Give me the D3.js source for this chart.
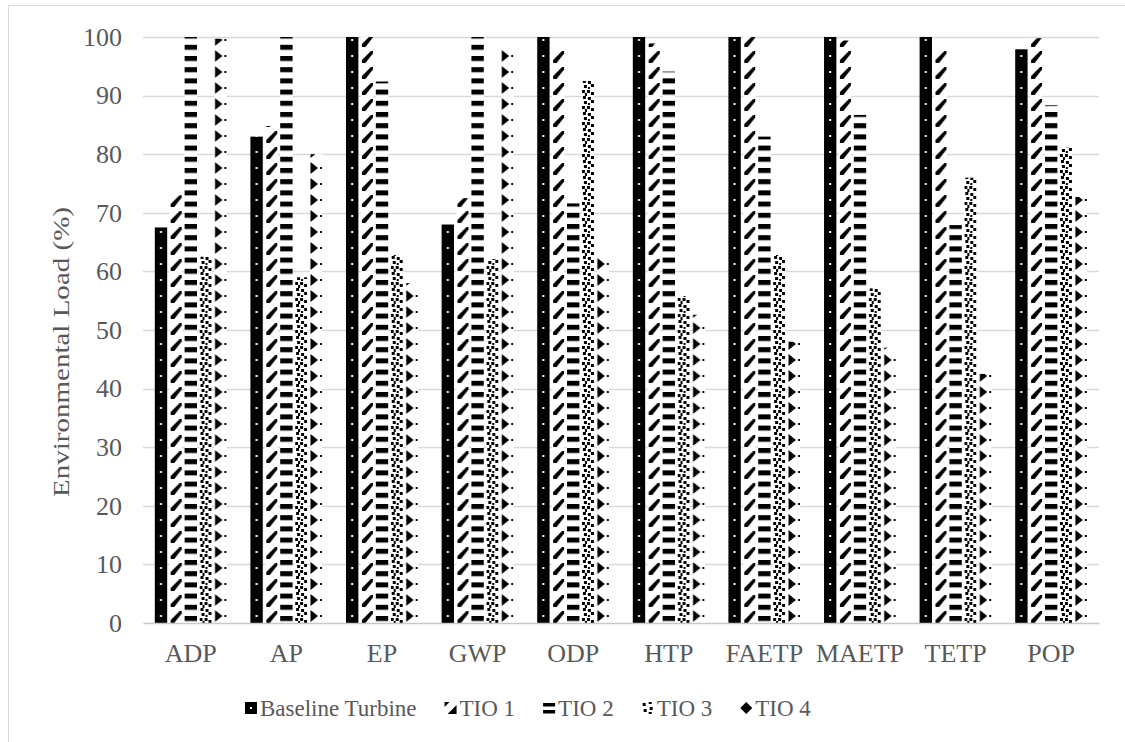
<!DOCTYPE html>
<html>
<head>
<meta charset="utf-8">
<script src="https://cdn.jsdelivr.net/npm/d3@7/dist/d3.min.js"></script>
<style>
  html, body { margin: 0; padding: 0; background: #fff; }
  svg { display: block; }
  svg text { font-family: "Liberation Serif", "Times New Roman", serif; }
</style>
</head>
<body>
<svg id="chart" width="1125" height="742"></svg>
<script>
// Impact categories (x axis)
const categories = ["ADP", "AP", "EP", "GWP", "ODP", "HTP", "FAETP", "MAETP", "TETP", "POP"];

// Series names (legend order)
const seriesNames = ["Baseline Turbine", "TIO 1", "TIO 2", "TIO 3", "TIO 4"];

// Environmental load (%) per series, one value per category
const baseline = [67.5, 83.0, 100, 68.0, 100, 100, 100, 100, 100, 97.9];
const tio1     = [73.0, 84.8, 100, 72.5, 97.9, 98.9, 100, 99.4, 97.9, 99.8];
const tio2     = [100, 100, 92.4, 100, 71.6, 94.1, 83.0, 86.7, 67.9, 88.4];
const tio3     = [62.5, 59.0, 62.8, 62.1, 92.5, 55.8, 62.8, 57.1, 76.0, 81.1];
const tio4     = [99.7, 80.0, 58.0, 97.9, 62.9, 52.6, 48.0, 47.0, 42.5, 72.7];

// Y axis ticks
const yTicks = [0, 10, 20, 30, 40, 50, 60, 70, 80, 90, 100];
const yTitle = "Environmental Load (%)";

const seriesValues = [baseline, tio1, tio2, tio3, tio4];
const rows = categories.map((c, i) => ({
  category: c,
  values: seriesNames.map((s, k) => ({ series: s, k: k, value: seriesValues[k][i] }))
}));

const FONT = "Liberation Serif, Times New Roman, serif";
const svg = d3.select("#chart");
const textColor = "#595959";
const gridColor = "#d9d9d9";

// Outer chart frame
svg.append("rect")
  .attr("x", 8.5).attr("y", 5.5)
  .attr("width", 1130).attr("height", 745)
  .attr("fill", "none").attr("stroke", gridColor).attr("stroke-width", 1);

const plot = { left: 143, right: 1099, top: 37, bottom: 623 };

const x0 = d3.scaleBand()
  .domain(categories)
  .range([plot.left, plot.right])
  .paddingInner(0.247)
  .paddingOuter(0.1235);

const x1 = d3.scaleBand()
  .domain(seriesNames)
  .range([0, x0.bandwidth()])
  .paddingInner(0.17)
  .paddingOuter(0);

const y = d3.scaleLinear().domain([0, 100]).range([plot.bottom, plot.top]);

// ---- Pattern fills (black on white) ----
const defs = svg.append("defs");

// Baseline: solid black with small white dots
const pBase = defs.append("pattern").attr("id", "pat0")
  .attr("patternUnits", "userSpaceOnUse").attr("width", 16).attr("height", 16);
pBase.append("rect").attr("width", 16).attr("height", 16).attr("fill", "#000");
pBase.append("rect").attr("x", 5.2).attr("y", 7).attr("width", 2).attr("height", 2).attr("fill", "#fff");

// TIO 1: dashed upward diagonal
const p1 = defs.append("pattern").attr("id", "pat1")
  .attr("patternUnits", "userSpaceOnUse").attr("width", 16).attr("height", 16);
p1.append("rect").attr("width", 16).attr("height", 16).attr("fill", "#fff");
p1.append("polygon").attr("points", "1,15 4.5,15 12,5.5 12,3 10,3 1,12").attr("fill", "#000");

// TIO 2: horizontal dashes
const p2 = defs.append("pattern").attr("id", "pat2")
  .attr("patternUnits", "userSpaceOnUse").attr("width", 16).attr("height", 11.2);
p2.append("rect").attr("width", 16).attr("height", 11.2).attr("fill", "#fff");
p2.append("rect").attr("x", 0).attr("y", 0).attr("width", 16).attr("height", 5).attr("fill", "#000");

// TIO 3: confetti
const p3 = defs.append("pattern").attr("id", "pat3")
  .attr("patternUnits", "userSpaceOnUse").attr("width", 16).attr("height", 16);
p3.append("rect").attr("width", 16).attr("height", 16).attr("fill", "#fff");
[[1,0,3,3],[6,1,3,3],[9,4,3,3],[2,5,3,3],[6,7,2,2],[0,10,3,3],[5,10,3,3],[9,12,3,3],[3,13,2,3]]
  .forEach(d => p3.append("rect").attr("x", d[0]).attr("y", d[1]).attr("width", d[2]).attr("height", d[3]).attr("fill", "#000"));

// TIO 4: right-pointing triangles with a dot
const p4 = defs.append("pattern").attr("id", "pat4")
  .attr("patternUnits", "userSpaceOnUse").attr("width", 16).attr("height", 16);
p4.append("rect").attr("width", 16).attr("height", 16).attr("fill", "#fff");
p4.append("polygon").attr("points", "0.5,2 0.5,14 8,8").attr("fill", "#000");
p4.append("rect").attr("x", 10).attr("y", 7).attr("width", 2).attr("height", 2).attr("fill", "#000");

// ---- Gridlines ----
svg.append("g").selectAll("line").data(yTicks.filter(t => t > 0)).join("line")
  .attr("x1", plot.left).attr("x2", plot.right)
  .attr("y1", d => Math.round(y(d)) + 0.5).attr("y2", d => Math.round(y(d)) + 0.5)
  .attr("stroke", gridColor).attr("stroke-width", 1.5);

// ---- Bars ----
const groups = svg.append("g").selectAll("g").data(rows).join("g")
  .attr("transform", d => `translate(${x0(d.category)},0)`);

groups.selectAll("g").data(d => d.values).join("g")
  .attr("transform", d => `translate(${x1(d.series)},0)`)
  .append("rect")
  .attr("x", 0)
  .attr("y", d => y(d.value))
  .attr("width", x1.bandwidth())
  .attr("height", d => y(0) - y(d.value))
  .attr("fill", d => `url(#pat${d.k})`);

// ---- Category axis ----
const xAxis = svg.append("g")
  .attr("transform", `translate(0,${plot.bottom})`)
  .call(d3.axisBottom(x0).tickSize(0).tickPadding(21));
xAxis.attr("font-family", FONT).attr("font-size", 26);
xAxis.select(".domain").attr("stroke", "#c8c8c8").attr("stroke-width", 1.5);
xAxis.selectAll("text").attr("fill", textColor);

// ---- Value axis ----
const yAxis = svg.append("g")
  .attr("transform", `translate(${plot.left},0)`)
  .call(d3.axisLeft(y).tickValues(yTicks).tickSize(0).tickPadding(21));
yAxis.attr("font-family", FONT).attr("font-size", 26);
yAxis.select(".domain").remove();
yAxis.selectAll("text").attr("fill", textColor);

// Axis title
svg.append("text")
  .attr("transform", `translate(69,352) rotate(-90)`)
  .attr("text-anchor", "middle")
  .attr("font-family", FONT)
  .attr("font-size", 23)
  .attr("fill", textColor)
  .attr("textLength", 290)
  .attr("lengthAdjust", "spacingAndGlyphs")
  .text(yTitle);

// ---- Legend ----
const legend = svg.append("g").attr("font-family", FONT);
const legendFont = 23;
const sw = 12, swGap = 3, itemGap = 28;
const tmp = legend.append("text").attr("font-size", legendFont);
const widths = seriesNames.map(s => { tmp.text(s); return tmp.node().getComputedTextLength(); });
tmp.remove();
let lx = 245;
const ly = 708;

seriesNames.forEach((s, k) => {
  const g = legend.append("g").attr("transform", `translate(${lx},${ly - sw / 2})`);
  if (k === 0) {
    g.append("rect").attr("width", sw).attr("height", sw).attr("fill", "#000");
    g.append("rect").attr("x", 5).attr("y", 5).attr("width", 2).attr("height", 2).attr("fill", "#fff");
  } else if (k === 1) {
    g.append("polygon").attr("points", "0,0 5,0 0,5").attr("fill", "#000");
    g.append("polygon").attr("points", "12,3 12,12 3,12").attr("fill", "#000");
  } else if (k === 2) {
    g.append("rect").attr("y", 1).attr("width", sw).attr("height", 3.5).attr("fill", "#000");
    g.append("rect").attr("y", 8).attr("width", sw).attr("height", 3.5).attr("fill", "#000");
  } else if (k === 3) {
    [[1,1,3,3],[7,0,3,2],[8,5,3,3],[2,7,3,3],[7,10,3,2]]
      .forEach(d => g.append("rect").attr("x", d[0]).attr("y", d[1]).attr("width", d[2]).attr("height", d[3]).attr("fill", "#000"));
  } else {
    g.append("polygon").attr("points", "6,0 12,6 6,12 0,6").attr("fill", "#000");
  }
  legend.append("text")
    .attr("x", lx + sw + swGap)
    .attr("y", ly)
    .attr("dy", "0.35em")
    .attr("fill", textColor)
    .attr("font-size", legendFont)
    .text(s);
  lx += sw + swGap + widths[k] + itemGap;
});
</script>
</body>
</html>
